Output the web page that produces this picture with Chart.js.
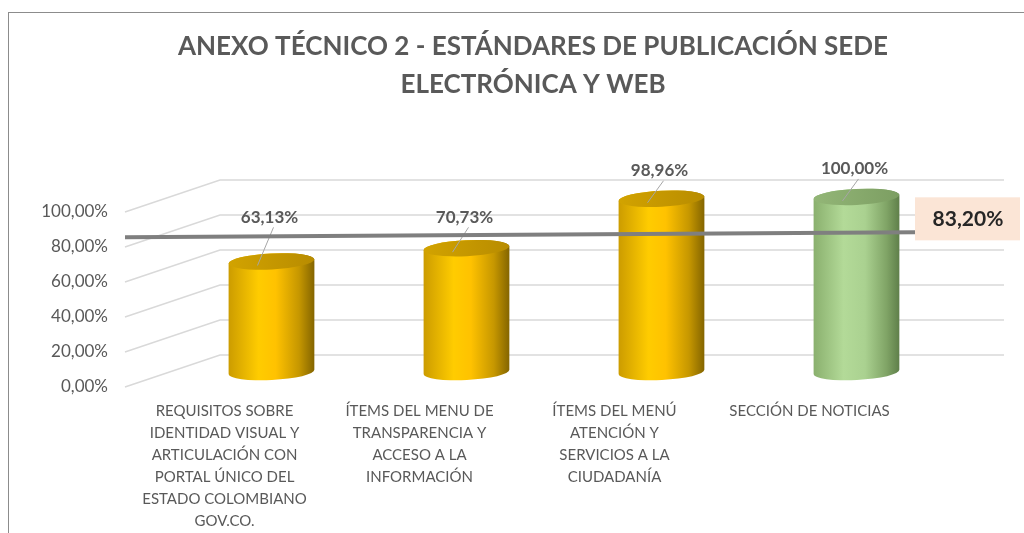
<!DOCTYPE html>
<html>
<head>
<meta charset="utf-8">
<script src="https://cdn.jsdelivr.net/npm/chart.js@4.4.0/dist/chart.umd.min.js"></script>
<style>
  html, body { margin: 0; padding: 0; background: #fff; }
  #caja { width: 1024px; height: 533px; }
</style>
</head>
<body>
<div id="caja"><canvas id="grafico"></canvas></div>
<script>
const categorias = [
  ['REQUISITOS SOBRE', 'IDENTIDAD VISUAL Y', 'ARTICULACIÓN CON', 'PORTAL ÚNICO DEL', 'ESTADO COLOMBIANO', 'GOV.CO.'],
  ['ÍTEMS DEL MENU DE', 'TRANSPARENCIA Y', 'ACCESO A LA', 'INFORMACIÓN'],
  ['ÍTEMS DEL MENÚ', 'ATENCIÓN Y', 'SERVICIOS A LA', 'CIUDADANÍA'],
  ['SECCIÓN DE NOTICIAS']
];
const porcentajes = [63.13, 70.73, 98.96, 100.00];
const promedio = 83.20;
const ticksY = [0, 20, 40, 60, 80, 100];

const formato = v => v.toFixed(2).replace('.', ',') + '%';

// desplazamientos de la perspectiva 3D (pared del fondo y cilindros)
const FONDO_X = 93, FONDO_Y = 32;
const CIL_X = 47, CIL_Y = 15;

function degradado(ctx, x0, x1, verde) {
  const g = ctx.createLinearGradient(x0, 0, x1, 0);
  if (verde) {
    g.addColorStop(0, '#8AB06E');
    g.addColorStop(0.35, '#B3DA98');
    g.addColorStop(0.6, '#AAD190');
    g.addColorStop(0.85, '#80A466');
    g.addColorStop(1, '#5F7F4A');
  } else {
    g.addColorStop(0, '#CC9C00');
    g.addColorStop(0.35, '#FFCC00');
    g.addColorStop(0.55, '#FFC200');
    g.addColorStop(0.82, '#C69700');
    g.addColorStop(1, '#846500');
  }
  return g;
}

const perspectiva = {
  id: 'perspectiva',
  beforeDraw(chart) {
    const ctx = chart.ctx;
    ctx.save();
    ctx.strokeStyle = '#8c8c8c';
    ctx.lineWidth = 1;
    ctx.strokeRect(8.5, 12.5, 1100, 600);
    ctx.restore();
  },
  beforeDatasetsDraw(chart) {
    const { ctx, chartArea, scales } = chart;
    ctx.save();
    ctx.strokeStyle = '#d9d9d9';
    ctx.lineWidth = 1.5;
    ticksY.forEach(v => {
      const yf = scales.y.getPixelForValue(v);
      ctx.beginPath();
      ctx.moveTo(chartArea.left - 2, yf);
      ctx.lineTo(chartArea.left + FONDO_X, yf - FONDO_Y);
      ctx.lineTo(chartArea.right + FONDO_X + 4, yf - FONDO_Y);
      ctx.stroke();
    });
    ctx.restore();
  },
  afterDatasetsDraw(chart) {
    const { ctx, chartArea, scales } = chart;
    const meta = chart.getDatasetMeta(0);
    const ya = scales.y.getPixelForValue(promedio) - 6;
    ctx.save();
    meta.data.forEach((el, i) => {
      const verde = i === meta.data.length - 1;
      const cx = el.x + CIL_X;
      const arriba = el.y - CIL_Y;
      const base = el.base - CIL_Y;
      const rx = el.width / 2;
      const ry = 8;
      const rot = -0.05;
      ctx.beginPath();
      ctx.moveTo(cx - rx, arriba);
      ctx.lineTo(cx - rx, base);
      ctx.ellipse(cx, base, rx, ry, rot, Math.PI, 0, true);
      ctx.lineTo(cx + rx, arriba);
      ctx.ellipse(cx, arriba, rx, ry, rot, 0, Math.PI, true);
      ctx.closePath();
      ctx.fillStyle = degradado(ctx, cx - rx, cx + rx, verde);
      ctx.fill();
      // tapa
      ctx.beginPath();
      ctx.ellipse(cx, arriba, rx, ry, rot, 0, Math.PI * 2);
      const gt = ctx.createLinearGradient(cx - rx, 0, cx + rx, 0);
      gt.addColorStop(0, verde ? '#93B677' : '#D2A300');
      gt.addColorStop(1, verde ? '#7C9E62' : '#B88C00');
      ctx.fillStyle = gt;
      ctx.fill();
      // etiqueta y línea guía (se sube si choca con la línea del promedio)
      let ly = arriba - 28;
      if (Math.abs(ly - ya) < 16) ly = ya - 18;
      ctx.strokeStyle = '#a6a6a6';
      ctx.lineWidth = 1;
      ctx.beginPath();
      ctx.moveTo(cx + 2, ly + 10);
      ctx.lineTo(cx - 14, arriba + 4);
      ctx.stroke();
      ctx.fillStyle = '#595959';
      ctx.font = 'bold 17px Lato';
      ctx.textAlign = 'center';
      ctx.textBaseline = 'middle';
      ctx.fillText(formato(porcentajes[i]), cx - 2, ly);
    });

    // línea del promedio
    ctx.strokeStyle = '#7f7f7f';
    ctx.lineWidth = 4;
    ctx.beginPath();
    ctx.moveTo(chartArea.left - 2, ya + 2);
    ctx.lineTo(chartArea.right + 8, ya - 3);
    ctx.stroke();
    ctx.fillStyle = '#FBE5D6';
    ctx.fillRect(chartArea.right + 8, ya - 38, 105, 43);
    ctx.fillStyle = '#262626';
    ctx.font = 'bold 21px Lato';
    ctx.textAlign = 'center';
    ctx.textBaseline = 'middle';
    ctx.fillText(formato(promedio), chartArea.right + 61, ya - 16);
    ctx.restore();
  }
};

new Chart(document.getElementById('grafico'), {
  type: 'bar',
  data: {
    labels: categorias,
    datasets: [{
      data: porcentajes,
      backgroundColor: 'rgba(0,0,0,0)',
      borderWidth: 0,
      categoryPercentage: 1,
      barPercentage: 0.44
    }]
  },
  options: {
    responsive: true,
    maintainAspectRatio: false,
    animation: false,
    layout: { padding: { left: 42, right: 0, top: 0, bottom: 0 } },
    plugins: {
      legend: { display: false },
      tooltip: { enabled: false },
      title: {
        display: true,
        text: ['ANEXO TÉCNICO 2 - ESTÁNDARES DE PUBLICACIÓN SEDE', 'ELECTRÓNICA Y WEB'],
        color: '#595959',
        font: { family: 'Lato', size: 26, weight: 'bold', lineHeight: 1.46 },
        padding: { top: 28, bottom: 108 }
      }
    },
    scales: {
      x: {
        grid: { display: false, drawTicks: false, tickLength: 0 },
        border: { display: false },
        afterFit: s => { s.height = 146; },
        ticks: {
          color: '#595959',
          font: { family: 'Lato', size: 15, lineHeight: 1.47 },
          padding: 13,
          maxRotation: 0,
          autoSkip: false
        }
      },
      y: {
        min: 0,
        max: 100,
        afterBuildTicks: s => { s.ticks = ticksY.map(v => ({ value: v })); },
        afterFit: s => { s.width = 85; },
        grid: { display: false, drawTicks: false, tickLength: 0 },
        border: { display: false },
        ticks: {
          color: '#595959',
          font: { family: 'Lato', size: 17 },
          padding: 19,
          callback: v => formato(v)
        }
      },
      derecha: {
        position: 'right',
        display: true,
        grid: { display: false, drawTicks: false, tickLength: 0 },
        border: { display: false },
        ticks: { display: false },
        afterFit: s => { s.width = 117; }
      }
    }
  },
  plugins: [perspectiva]
});
</script>
</body>
</html>
